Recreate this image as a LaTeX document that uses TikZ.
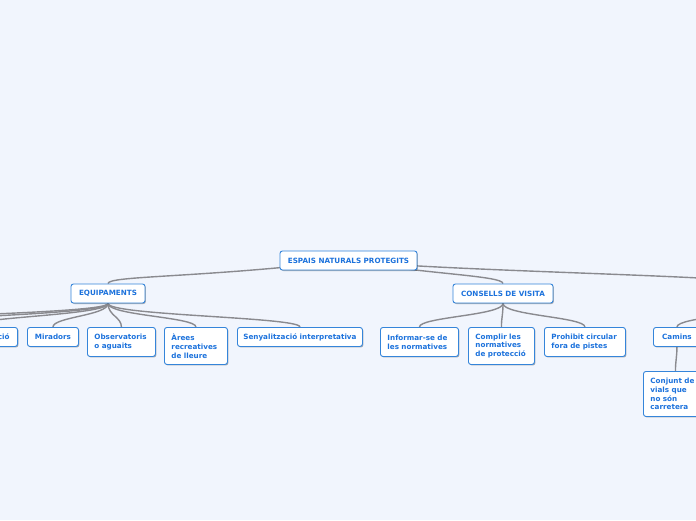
\documentclass[tikz,border=0pt]{standalone}
\usepackage{fontspec}
\setmainfont{DejaVu Sans}
\usetikzlibrary{shadows,calc}
\definecolor{bg}{HTML}{F1F5FD}
\definecolor{bord}{HTML}{3585DA}
\definecolor{txt}{HTML}{1C72DC}
\definecolor{lin}{HTML}{8A8A8F}
\pgfdeclarelayer{back}
\pgfdeclarelayer{edges}
\pgfsetlayers{back,edges,main}
\begin{document}
\begin{tikzpicture}[x=1pt,y=-1pt,
  nb/.style={draw=bord, fill=white, rounded corners=2.5pt, line width=0.9pt,
    text=txt, font=\fontsize{7.2}{8.8}\selectfont\bfseries,
    inner xsep=7pt, inner ysep=0pt, minimum height=19pt, anchor=north west,
    drop shadow={shadow xshift=0.9pt, shadow yshift=-1pt, fill=black, opacity=0.3}},
  one/.style={nb, inner xsep=2pt},
  two/.style={nb, align=left, minimum height=29pt},
  three/.style={nb, align=left, minimum height=37pt},
  four/.style={nb, align=left, minimum height=45pt},
  conn/.style={draw=lin, line width=1.4pt}]
\useasboundingbox (0,0) rectangle (696,520);
\begin{pgfonlayer}{back}
  \fill[bg] (0,0) rectangle (696,520);
\end{pgfonlayer}
\clip (0,0) rectangle (696,520);

% level 0 / 1
\node[one, minimum width=137pt, anchor=center] (root) at (348.5,260.5) {ESPAIS NATURALS PROTEGITS};
\node[one, minimum width=74pt, anchor=center] (eq) at (108,293.5) {EQUIPAMENTS};
\node[one, minimum width=100pt, anchor=center] (cons) at (503,293.5) {CONSELLS DE VISITA};
\coordinate (r1) at (760,284);
\coordinate (r1b) at (760,303);

% equipaments children
\node[one, inner xsep=8pt, anchor=north east] (ci) at (18,327) {Centres d'informació};
\coordinate (l2) at (-120,327);
\coordinate (l3) at (-220,327);
\node[one, minimum width=51pt] (mir) at (27,327) {Miradors};
\node[two, text width=54pt] (obs) at (87,327) {Observatoris\\o aguaits};
\node[three, text width=49pt] (are) at (164,327) {Àrees\\recreatives\\de lleure};
\node[one, minimum width=125pt] (sen) at (237,327) {Senyalització interpretativa};

% consells children
\node[two, text width=64pt] (inf) at (380,327) {Informar-se de\\les normatives};
\node[three, text width=52pt] (com) at (468,327) {Complir les\\normatives\\de protecció};
\node[two, text width=67pt] (pro) at (544,327) {Prohibit circular\\fora de pistes};

% right branch
\node[one, minimum width=47pt] (cam) at (653,327) {Camins};
\node[four, text width=50pt] (conj) at (643,371) {Conjunt de\\vials que\\no són\\carretera};

\begin{pgfonlayer}{edges}
  \draw[conn] (root.center) .. controls (200,278) and ($(eq.north)+(0,-8)$) .. (eq.north);
  \draw[conn] (root.center) .. controls (423,274) and ($(cons.north)+(0,-8)$) .. (cons.north);
  \draw[conn] (root.center) .. controls (430,271) and ($(r1)+(0,-8)$) .. (r1);
  \foreach \c in {ci,mir,obs,are,sen}
    \draw[conn] (eq.south) .. controls +(0,12) and +(0,-10) .. (\c.north);
  \foreach \c in {l2,l3}
    \draw[conn] (eq.south) .. controls +(0,12) and +(0,-10) .. (\c);
  \foreach \c in {inf,com,pro}
    \draw[conn] (cons.south) .. controls +(0,12) and +(0,-10) .. (\c.north);
  \draw[conn] (r1b) .. controls +(0,12) and +(0,-10) .. (cam.north);
  \draw[conn] (cam.south) .. controls +(0,10) and +(0,-10) .. (conj.north);
\end{pgfonlayer}
\end{tikzpicture}
\end{document}
